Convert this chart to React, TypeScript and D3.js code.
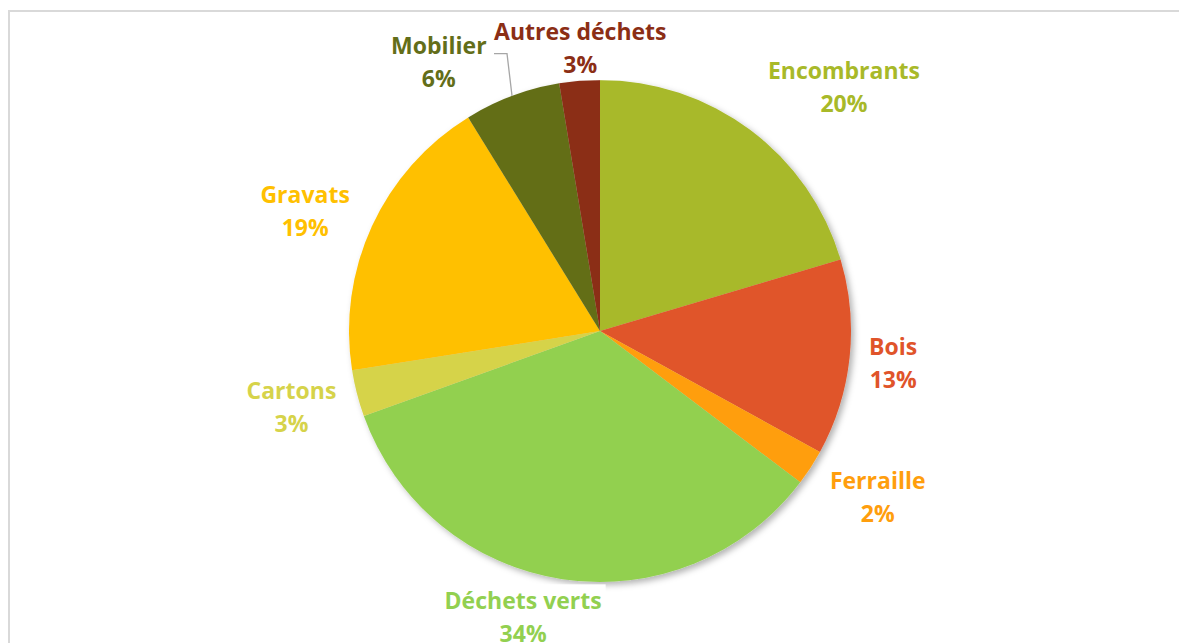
import React, { useRef, useEffect } from "react";
import * as d3 from "d3";

// slices clockwise from 12 o'clock
const categories = [
  "Encombrants",
  "Bois",
  "Ferraille",
  "Déchets verts",
  "Cartons",
  "Gravats",
  "Mobilier",
  "Autres déchets",
];
const shares = [20.4, 12.6, 2.3, 34.2, 3.0, 18.7, 6.2, 2.6];
const colors = [
  "#A8B929",
  "#E0542A",
  "#FF9E0D",
  "#92D050",
  "#D6D34A",
  "#FFC000",
  "#636E19",
  "#8B2E15",
];

// label placement (degrees clockwise from top, distance from centre)
const labelAngle = [45, 96.4, 121, 195, 256, 292, 329, 356];
const labelDist = [345, 295, 324, 297, 318, 318, 313, 283];

const App = () => {
  const ref = useRef<SVGSVGElement>(null);

  useEffect(() => {
    const svg = d3.select(ref.current);
    svg.selectAll("*").remove();

    const width = 1179;
    const height = 643;
    const cx = 600;
    const cy = 331;
    const radius = 251;

    svg.attr("width", width).attr("height", height);

    // chart frame
    svg.append("rect")
      .attr("x", 9)
      .attr("y", 11)
      .attr("width", width + 20)
      .attr("height", height + 20)
      .attr("fill", "#fff")
      .attr("stroke", "#d9d9d9")
      .attr("stroke-width", 2);

    const defs = svg.append("defs");
    const filter = defs.append("filter")
      .attr("id", "shadow")
      .attr("x", "-10%").attr("y", "-10%")
      .attr("width", "120%").attr("height", "120%");
    filter.append("feDropShadow")
      .attr("dx", 3).attr("dy", 3)
      .attr("stdDeviation", 3)
      .attr("flood-color", "#000")
      .attr("flood-opacity", 0.3);

    const data = categories.map((c, i) => ({ name: c, value: shares[i], color: colors[i], idx: i }));

    const pie = d3.pie<any>()
      .value((d) => d.value)
      .sort(null);

    const arc = d3.arc<any>()
      .innerRadius(0)
      .outerRadius(radius);

    const g = svg.append("g")
      .attr("transform", `translate(${cx}, ${cy})`);

    const arcs = pie(data);

    g.append("g")
      .attr("filter", "url(#shadow)")
      .selectAll("path")
      .data(arcs)
      .enter()
      .append("path")
      .attr("d", arc)
      .attr("fill", (d) => d.data.color);

    const fontSize = 23;
    const lineH = 33;

    arcs.forEach((d, i) => {
      const a = (labelAngle[i] * Math.PI) / 180;
      const x = Math.sin(a) * labelDist[i];
      const y = -Math.cos(a) * labelDist[i];
      const lg = g.append("g").attr("transform", `translate(${x}, ${y})`);
      const bg = lg.append("rect").attr("fill", "#fff");
      const t = lg.append("text")
        .attr("text-anchor", "middle")
        .attr("font-family", "'Open Sans', sans-serif")
        .attr("font-weight", 700)
        .attr("font-size", fontSize)
        .attr("fill", d.data.color);
      t.append("tspan").attr("x", 0).attr("y", -lineH / 2 + 8).text(d.data.name);
      t.append("tspan").attr("x", 0).attr("y", lineH / 2 + 8).text(`${Math.round(d.data.value)}%`);
      const bb = (t.node() as SVGTextElement).getBBox();
      bg.attr("x", bb.x - 4).attr("y", bb.y)
        .attr("width", bb.width + 8).attr("height", bb.height);
    });

    // leader line for Mobilier, drawn over the labels
    const mob = arcs[6];
    const mid = (mob.startAngle + mob.endAngle) / 2;
    const px = Math.sin(mid) * radius;
    const py = -Math.cos(mid) * radius;
    const la = (labelAngle[6] * Math.PI) / 180;
    const ly = -Math.cos(la) * labelDist[6];
    g.append("polyline")
      .attr("points", `${px - 18},${ly - 9} ${px - 5},${ly - 9} ${px},${py}`)
      .attr("fill", "none")
      .attr("stroke", "#a6a6a6")
      .attr("stroke-width", 1.3);
  }, []);

  return (
    <svg
      ref={ref}
      style={{ position: "absolute", left: 0, top: 0, display: "block" }}
    ></svg>
  );
};

export default App;
